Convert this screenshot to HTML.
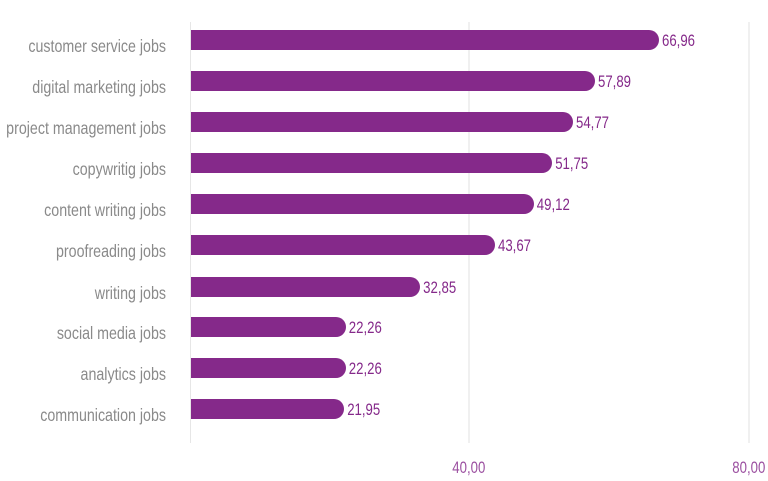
<!DOCTYPE html>
<html><head><meta charset="utf-8"><style>
html,body{margin:0;padding:0;background:#fff;}
svg{display:block;font-family:"Liberation Sans",sans-serif;}
</style></head><body>
<svg width="768" height="481" viewBox="0 0 768 481" xmlns="http://www.w3.org/2000/svg">
<line x1="190.5" y1="22" x2="190.5" y2="443" stroke="#e6e6e6" stroke-width="1"/>
<line x1="469" y1="22" x2="469" y2="443" stroke="#e6e6e6" stroke-width="1.2"/>
<line x1="749" y1="22" x2="749" y2="443" stroke="#e6e6e6" stroke-width="1.2"/>
<g fill="#85298a">
<path d="M191 30 H649 a10 10 0 0 1 0 20 H191 Z"/>
<path d="M191 71 H585 a10 10 0 0 1 0 20 H191 Z"/>
<path d="M191 112 H563 a10 10 0 0 1 0 20 H191 Z"/>
<path d="M191 153 H542 a10 10 0 0 1 0 20 H191 Z"/>
<path d="M191 194 H524 a10 10 0 0 1 0 20 H191 Z"/>
<path d="M191 235 H485 a10 10 0 0 1 0 20 H191 Z"/>
<path d="M191 277 H410 a10 10 0 0 1 0 20 H191 Z"/>
<path d="M191 317 H336 a10 10 0 0 1 0 20 H191 Z"/>
<path d="M191 358 H336 a10 10 0 0 1 0 20 H191 Z"/>
<path d="M191 399 H334 a10 10 0 0 1 0 20 H191 Z"/>
</g>
<g transform="scale(0.8,1)" font-size="17.8" fill="#8a8a8a" text-anchor="end">
<text x="207.5" y="52">customer service jobs</text>
<text x="207.5" y="93">digital marketing jobs</text>
<text x="207.5" y="134">project management jobs</text>
<text x="207.5" y="175">copywritig jobs</text>
<text x="207.5" y="216">content writing jobs</text>
<text x="207.5" y="257">proofreading jobs</text>
<text x="207.5" y="299">writing jobs</text>
<text x="207.5" y="339">social media jobs</text>
<text x="207.5" y="380">analytics jobs</text>
<text x="207.5" y="421">communication jobs</text>
</g>
<g transform="scale(0.8,1)" font-size="16.5" fill="#85298a">
<text x="827.5" y="46">66,96</text>
<text x="747.5" y="87">57,89</text>
<text x="720" y="128">54,77</text>
<text x="694" y="169">51,75</text>
<text x="671" y="210">49,12</text>
<text x="622.5" y="251">43,67</text>
<text x="529" y="293">32,85</text>
<text x="436" y="333">22,26</text>
<text x="436" y="374">22,26</text>
<text x="434" y="415">21,95</text>
</g>
<g transform="scale(0.8,1)" font-size="16.5" fill="#9b4fa0" text-anchor="middle">
<text x="586" y="473">40,00</text>
<text x="936" y="473">80,00</text>
</g>
</svg>
</body></html>
